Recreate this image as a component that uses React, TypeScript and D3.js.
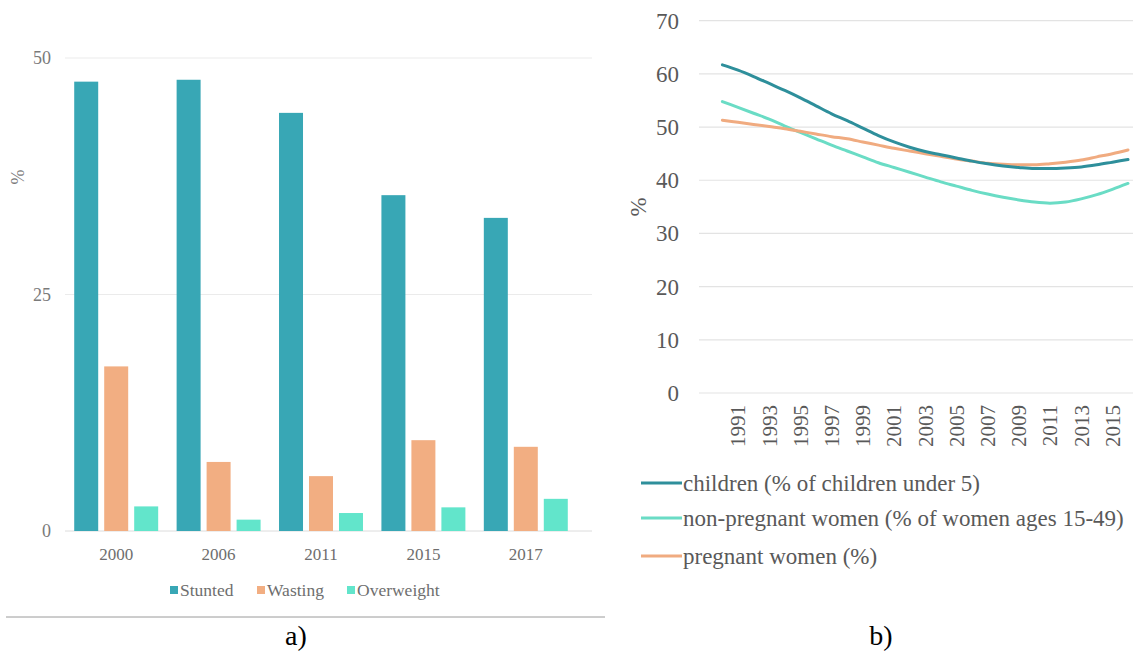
import React from "react";
import * as d3 from "d3";

// ---------- Panel a) data ----------
const barYears = ["2000", "2006", "2011", "2015", "2017"];
const barSeries = ["Stunted", "Wasting", "Overweight"];
const stunted = [47.5, 47.7, 44.2, 35.5, 33.1];
const wasting = [17.4, 7.3, 5.8, 9.6, 8.9];
const overweight = [2.6, 1.2, 1.9, 2.5, 3.4];
const barTicks = [0, 25, 50];
const barColors = ["#38a7b5", "#f2ae82", "#62e5cb"];

// ---------- Panel b) data ----------
const lineYears = [
  1990, 1991, 1992, 1993, 1994, 1995, 1996, 1997, 1998, 1999, 2000, 2001, 2002,
  2003, 2004, 2005, 2006, 2007, 2008, 2009, 2010, 2011, 2012, 2013, 2014, 2015, 2016,
];
const children = [
  61.7, 60.7, 59.5, 58.2, 56.9, 55.5, 54.0, 52.5, 51.2, 49.8, 48.4, 47.2, 46.2,
  45.4, 44.8, 44.2, 43.6, 43.1, 42.7, 42.4, 42.2, 42.2, 42.3, 42.5, 42.9, 43.4, 43.9,
];
const nonPregnant = [
  54.8, 53.7, 52.6, 51.5, 50.2, 49.0, 47.8, 46.6, 45.5, 44.4, 43.3, 42.4, 41.5,
  40.6, 39.7, 38.9, 38.1, 37.4, 36.8, 36.3, 35.9, 35.7, 35.9, 36.5, 37.3, 38.3, 39.4,
];
const pregnant = [
  51.3, 50.9, 50.5, 50.1, 49.7, 49.2, 48.7, 48.2, 47.8, 47.2, 46.6, 46.0, 45.5,
  45.0, 44.5, 44.0, 43.6, 43.2, 43.0, 42.9, 42.9, 43.1, 43.4, 43.8, 44.4, 45.0, 45.7,
];
const lineNames = [
  "children (% of children under 5)",
  "non-pregnant women (% of women ages 15-49)",
  "pregnant women (%)",
];
const lineColors = ["#2e8f9b", "#6adcc5", "#f0ab80"];
const lineTicks = [0, 10, 20, 30, 40, 50, 60, 70];
const lineXLabels = [1991, 1993, 1995, 1997, 1999, 2001, 2003, 2005, 2007, 2009, 2011, 2013, 2015];

const FONT = "Liberation Serif, Tinos, Times New Roman, DejaVu Serif, serif";

function PanelA() {
  const x0 = d3.scaleBand<string>().domain(barYears).range([65, 577]).paddingInner(0.18).paddingOuter(0.09);
  const x1 = d3.scaleBand<string>().domain(barSeries).range([0, x0.bandwidth()]).paddingInner(0.2);
  const y = d3.scaleLinear().domain([0, 50]).range([531, 58]);
  const values = [stunted, wasting, overweight];
  const legendX = [170, 257, 347];
  return (
    <g style={{ fontFamily: FONT }}>
      {barTicks.map((t) => (
        <g key={t}>
          <line x1={65} x2={592} y1={y(t)} y2={y(t)} stroke={t === 0 ? "#dcdcdc" : "#ebebeb"} strokeWidth={1} />
          <text x={51} y={y(t)} dy="0.35em" textAnchor="end" fontSize={18} fill="#7a7a7a">
            {t}
          </text>
        </g>
      ))}
      <text transform="translate(24,177) rotate(-90)" textAnchor="middle" fontSize={18} fill="#7a7a7a">
        %
      </text>
      {barYears.map((yr, i) => (
        <g key={yr} transform={`translate(${x0(yr)},0)`}>
          {barSeries.map((s, j) => (
            <rect
              key={s}
              x={x1(s)}
              y={y(values[j][i])}
              width={x1.bandwidth()}
              height={y(0) - y(values[j][i])}
              fill={barColors[j]}
            />
          ))}
          <text x={x0.bandwidth() / 2} y={560} textAnchor="middle" fontSize={17} fill="#6e6e6e">
            {yr}
          </text>
        </g>
      ))}
      {barSeries.map((s, j) => (
        <g key={s}>
          <rect x={legendX[j]} y={586} width={8} height={8} fill={barColors[j]} />
          <text x={legendX[j] + 10} y={596} fontSize={17.5} fill="#6e6e6e">
            {s}
          </text>
        </g>
      ))}
    </g>
  );
}

function PanelB() {
  const x = d3.scaleLinear().domain([1990, 2016]).range([722.4, 1128]);
  const y = d3.scaleLinear().domain([0, 70]).range([393, 20.7]);
  const series = [children, nonPregnant, pregnant];
  const line = d3
    .line<number>()
    .x((_, i) => x(lineYears[i]))
    .y((v) => y(v))
    .curve(d3.curveMonotoneX);
  const legendY = [483, 518, 556];
  return (
    <g style={{ fontFamily: FONT }}>
      {lineTicks.map((t) => (
        <g key={t}>
          <line x1={699} x2={1133} y1={y(t)} y2={y(t)} stroke="#e3e3e3" strokeWidth={1.2} />
          <text x={679} y={y(t)} dy="0.35em" textAnchor="end" fontSize={23} fill="#595959">
            {t}
          </text>
        </g>
      ))}
      <text transform="translate(646,207) rotate(-90)" textAnchor="middle" fontSize={23} fill="#595959">
        %
      </text>
      {lineXLabels.map((yr) => (
        <text
          key={yr}
          transform={`translate(${x(yr)},405) rotate(-90)`}
          dy="0.35em"
          textAnchor="end"
          fontSize={21}
          fill="#595959"
        >
          {yr}
        </text>
      ))}
      {[1, 2, 0].map((k) => (
        <path key={k} d={line(series[k]) || ""} fill="none" stroke={lineColors[k]} strokeWidth={3} strokeLinecap="round" />
      ))}
      {lineNames.map((n, k) => (
        <g key={n}>
          <line x1={641} x2={682} y1={legendY[k]} y2={legendY[k]} stroke={lineColors[k]} strokeWidth={3} />
          <text x={683} y={legendY[k]} dy="0.35em" fontSize={23} fill="#595959">
            {n}
          </text>
        </g>
      ))}
    </g>
  );
}

export default function App() {
  return (
    <svg
      width={1133}
      height={655}
      viewBox="0 0 1133 655"
      style={{ position: "absolute", left: 0, top: 0, background: "#fff" }}
    >
      <rect width={1133} height={655} fill="#fff" />
      <PanelA />
      <PanelB />
      <line x1={6} x2={605} y1={617} y2={617} stroke="#9a9a9a" strokeWidth={1} />
      <text x={296} y={645} textAnchor="middle" fontSize={28} style={{ fontFamily: FONT }} fill="#000">
        a)
      </text>
      <text x={881} y={645} textAnchor="middle" fontSize={28} style={{ fontFamily: FONT }} fill="#000">
        b)
      </text>
    </svg>
  );
}
